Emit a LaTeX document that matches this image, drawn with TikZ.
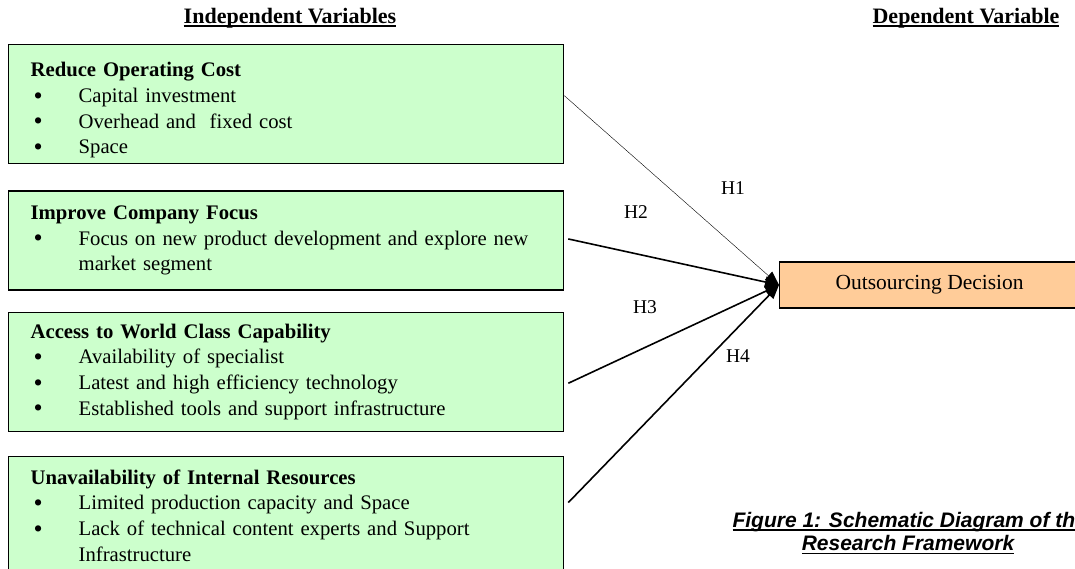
\documentclass[tikz,border=0pt]{standalone}
\usepackage{fontspec}
\setmainfont{Liberation Serif}
\newfontfamily\capfont{Liberation Sans}
\usetikzlibrary{arrows.meta,positioning}

\definecolor{boxgreen}{HTML}{CCFFCC}
\definecolor{boxorange}{HTML}{FFCC99}

% bullet line, wrapped text hangs under the first word
\newcommand{\bitem}[1]{\par\noindent\hspace*{3pt}\makebox[45pt][l]{\raisebox{-1.5pt}{\fontsize{26}{26}\selectfont\textbullet}}%
  \parbox[t]{463pt}{\raggedright #1}}
% heavy underline
\newcommand{\thickul}[1]{\setbox0=\hbox{#1}\rlap{\rule[-3.5pt]{\wd0}{1.8pt}}\box0}

\begin{document}
\begin{tikzpicture}[
  x=1pt, y=1pt,
  varbox/.style={draw, line width=1.3pt, fill=boxgreen, minimum width=555pt, text width=511pt,
    inner xsep=22pt, inner ysep=4pt, align=left, font=\fontsize{20.7}{25.7}\selectfont},
  depbox/.style={draw, line width=1.3pt, fill=boxorange, minimum width=300pt, minimum height=46pt,
    font=\fontsize{21.5}{24}\selectfont},
  header/.style={font=\fontsize{22}{26}\selectfont\bfseries},
  hlabel/.style={font=\fontsize{19.5}{22}\selectfont},
  caption/.style={font=\fontsize{21}{24}\selectfont\capfont\bfseries\itshape},
  link/.style={line width=1.6pt, -{Triangle[length=14pt,width=11pt]}},
]
\useasboundingbox (0,0) rectangle (1075,-568);

% Headers
\node[header] (indep) at (290,-18) {\thickul{Independent Variables}};
\node[header] (dep) at (966,-18) {\thickul{Dependent Variable}};

% Independent variables
\node[varbox, anchor=north west, minimum height=119pt] (cost) at (8,-44) {%
  \noindent\rule{0pt}{27pt}\textbf{Reduce Operating Cost}
  \bitem{Capital investment}
  \bitem{Overhead and\ \ fixed cost}
  \bitem{Space}};
\node[varbox, minimum height=99pt] (focus) [below=26pt of cost] {%
  \noindent\textbf{Improve Company Focus}
  \bitem{Focus on new product development and explore new market segment}};
\node[varbox, minimum height=119pt] (world) [below=21pt of focus] {%
  \noindent\textbf{Access to World Class Capability}
  \bitem{Availability of specialist}
  \bitem{Latest and high efficiency technology}
  \bitem{Established tools and support infrastructure}};
\node[varbox, minimum height=118pt] (internal) [below=24pt of world] {%
  \noindent\textbf{Unavailability of Internal Resources}
  \bitem{Limited production capacity and Space}
  \bitem{Lack of technical content experts and Support Infrastructure}};

% Dependent variable
\node[depbox, anchor=west] (decision) at (779,-285) {Outsourcing Decision};

% Hypotheses
\draw[link, line width=0.4pt] ([yshift=8.5pt]cost.east) -- (decision.west);
\draw[link] ([xshift=4pt, yshift=1.5pt]focus.east) -- (decision.west);
\draw[link] ([xshift=4pt, yshift=-11.5pt]world.east) -- (decision.west);
\draw[link] ([xshift=4pt, yshift=13pt]internal.east) -- (decision.west);

\node[hlabel] (h1) at (733,-188) {H1};
\node[hlabel] (h2) at (636,-212) {H2};
\node[hlabel] (h3) at (645,-307) {H3};
\node[hlabel] (h4) at (738,-356) {H4};

% Caption
\node[caption, anchor=west] (cap1) at (729,-522) {\thickul{Figure 1: Schematic Diagram of th}};
\node[caption] (cap2) at (908,-545) {\thickul{Research Framework}};

\end{tikzpicture}
\end{document}
